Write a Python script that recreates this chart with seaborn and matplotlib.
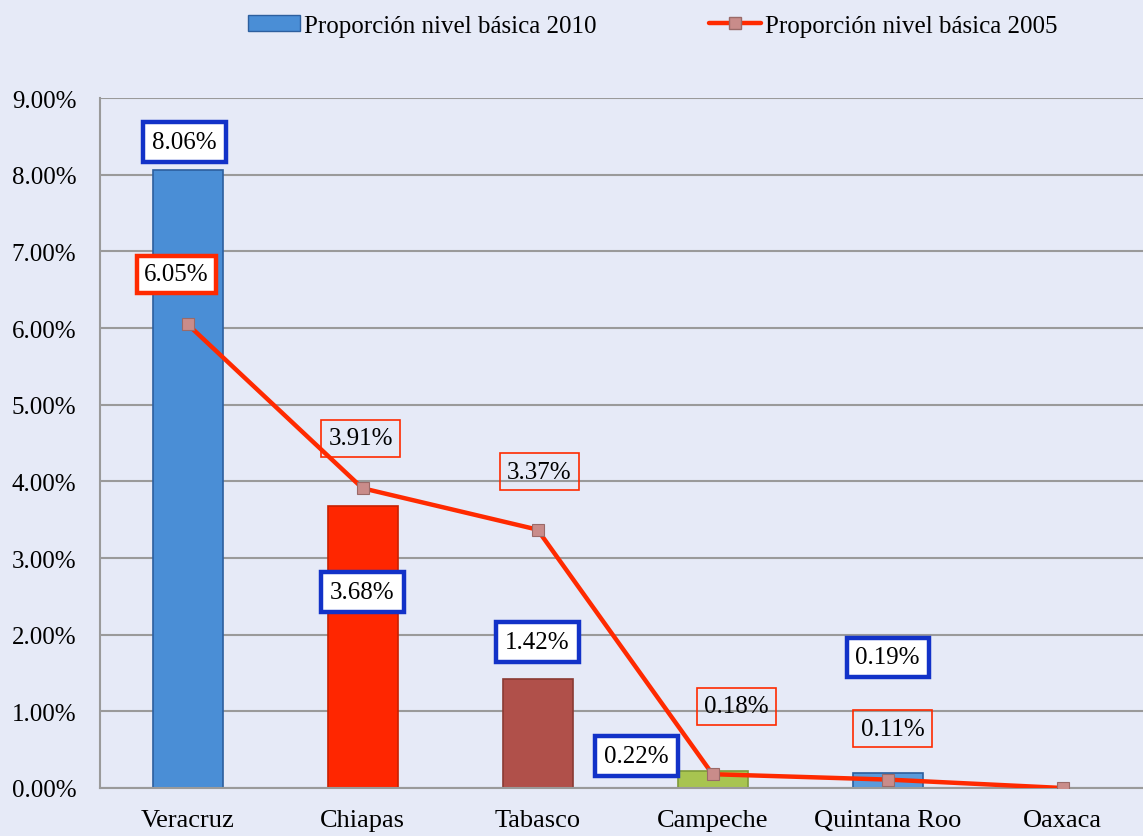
import numpy as np
import seaborn as sns
import matplotlib.pyplot as plt
from matplotlib.patches import Patch
from matplotlib.lines import Line2D
from matplotlib.ticker import FixedLocator, FuncFormatter

states = ['Veracruz', 'Chiapas', 'Tabasco', 'Campeche', 'Quintana Roo', 'Oaxaca']
prop_2010 = [8.06, 3.68, 1.42, 0.22, 0.19, 0.0]
prop_2005 = [6.05, 3.91, 3.37, 0.18, 0.11, 0.0]
labels_2010 = ['8.06%', '3.68%', '1.42%', '0.22%', '0.19%', '']
labels_2005 = ['6.05%', '3.91%', '3.37%', '0.18%', '0.11%', '']

bar_colors = ['#4a8ed6', '#ff2600', '#b0504a', '#a8c450', '#5a9bdc', '#5a9bdc']
bar_edges = ['#2d5f9e', '#c82000', '#8a3a33', '#7f9a3a', '#2d5f9e', '#2d5f9e']
# label offsets in pixels (dx, dy)
off_2010 = [(-3, 28), (0, -86), (0, 37), (-76, 15), (0, 116), (0, 0)]
off_2005 = [(-11, 50), (-2, 50), (2, 58), (24, 68), (5, 51), (0, 0)]

bg = '#e6eaf7'
sns.set_style('white')
plt.rcParams['font.family'] = ['Liberation Serif', 'DejaVu Serif']
plt.rcParams['text.color'] = 'black'
plt.rcParams['xtick.color'] = 'black'
plt.rcParams['ytick.color'] = 'black'

fig = plt.figure(figsize=(11.43, 8.37), dpi=100, facecolor=bg)
ax = fig.add_axes([100 / 1143, 48 / 837, 1050 / 1143, 690 / 837])
ax.set_facecolor(bg)

x = np.arange(len(states))
sns.barplot(x=states, y=prop_2010, hue=states, palette=bar_colors, legend=False,
            width=0.4, saturation=1, ax=ax, zorder=2)
for p, ec in zip(ax.patches, bar_edges):
    p.set_edgecolor(ec)
    p.set_linewidth(1.2)

sns.lineplot(x=x, y=prop_2005, color='#ff2a00', lw=3.2, marker='s', markersize=9,
             markerfacecolor='#c98c8a', markeredgecolor='#9a6a68', markeredgewidth=0.8,
             ax=ax, zorder=4)

ax.set_xlim(-0.5, 5.5)
ax.set_ylim(0, 9)
ax.set_yticks(np.arange(0, 9.01, 1))
ax.yaxis.set_major_formatter(FuncFormatter(lambda v, _: f'{v:.2f}%'))
ax.yaxis.grid(True, color='#9a9a9a', lw=1.5, zorder=0)
ax.set_axisbelow(True)
ax.set_xticks(x)
ax.set_xticklabels(states, fontsize=19)
ax.xaxis.set_minor_locator(FixedLocator(x[:-1] + 0.5))
ax.tick_params(axis='x', which='major', length=0, pad=15)
ax.tick_params(axis='x', which='minor', length=8, width=1.2, color='#9a9a9a', direction='out')
ax.tick_params(axis='y', length=8, width=1.2, color='#9a9a9a', labelsize=18, pad=9)
for s in ['top', 'right']:
    ax.spines[s].set_visible(False)
for s in ['left', 'bottom']:
    ax.spines[s].set_color('#9a9a9a')
    ax.spines[s].set_linewidth(1.5)

for i, (v, lab, off) in enumerate(zip(prop_2010, labels_2010, off_2010)):
    if not lab:
        continue
    ax.annotate(lab, (i, v), xytext=off, textcoords='offset pixels', ha='center', va='center',
                fontsize=18, zorder=6,
                bbox=dict(boxstyle='square,pad=0.35', fc='white', ec='#1232c8', lw=3.2))
for i, (v, lab, off) in enumerate(zip(prop_2005, labels_2005, off_2005)):
    if not lab:
        continue
    lw = 3.2 if i == 0 else 1.2
    ax.annotate(lab, (i, v), xytext=off, textcoords='offset pixels', ha='center', va='center',
                fontsize=18, zorder=6,
                bbox=dict(boxstyle='square,pad=0.3', fc='white' if i == 0 else 'none',
                          ec='#ff2a00', lw=lw))

handles = [Patch(facecolor='#4a8ed6', edgecolor='#2d5f9e'),
           Line2D([], [], color='#ff2a00', lw=3.2, marker='s', markersize=8,
                  markerfacecolor='#c98c8a', markeredgecolor='#9a6a68')]
fig.legend(handles, ['Proporción nivel básica 2010', 'Proporción nivel básica 2005'],
           loc='center', bbox_to_anchor=(0.571, 0.968), ncol=2, frameon=False,
           fontsize=18, columnspacing=4.5, handlelength=2.1, handleheight=0.6,
           handletextpad=0.15)

fig.savefig('out.png', dpi=100, facecolor=bg)
